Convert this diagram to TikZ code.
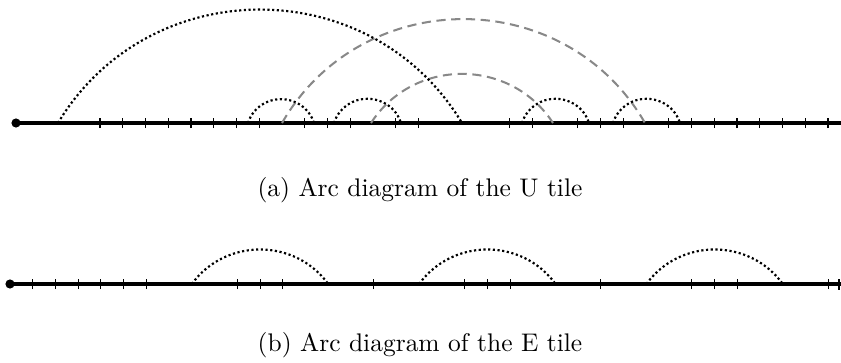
\documentclass[tikz,border=0pt]{standalone}
\usepackage{tikz}
\usetikzlibrary{arrows.meta}
\definecolor{arcgray}{HTML}{888888}
\tikzset{
  axis/.style={line width=1.6pt, color=black},
  tickmark/.style={line width=0.4pt, color=black},
  pairarc/.style={densely dotted, line width=0.85pt},
  crossarc/.style={dash pattern=on 3.6pt off 2.2pt, line width=0.8pt, color=arcgray},
  captext/.style={font=\normalsize, inner sep=0pt},
}

\begin{document}
\begin{tikzpicture}[x=0.3926pt, y=0.3926pt]
      \useasboundingbox (0,0) rectangle (841,362);
      % U tile
      \coordinate (u0) at (16,239);
      \coordinate (uend) at (841,239);
      \draw[axis] (u0) -- (uend);
      \fill (u0) circle[radius=1.8pt];
      \foreach \k in {0,...,7,9,10,11,13,14,18,19,21,22,23,25,26,...,32}
        \draw[tickmark] ({100+22.75*\k},234) -- ++(0,10);
      \coordinate (ua) at (58,239);  \coordinate (ub) at (462,239);
      \coordinate (uc) at (248,239); \coordinate (ud) at (314,239);
      \coordinate (ue) at (334,239); \coordinate (uf) at (401,239);
      \coordinate (ug) at (522,239); \coordinate (uh) at (589,239);
      \coordinate (ui) at (613,239); \coordinate (uj) at (680,239);
      \coordinate (uk) at (282,239); \coordinate (ul) at (645,239);
      \coordinate (um) at (371,239); \coordinate (un) at (553,239);
      \draw[crossarc] (uk) to[out=60,in=120,looseness=1.13] (ul);
      \draw[crossarc] (um) to[out=57,in=123,looseness=1.10] (un);
      \draw[pairarc] (ua) to[out=59,in=121,looseness=1.12] (ub);
      \draw[pairarc] (uc) to[out=72,in=108,looseness=1.30] (ud);
      \draw[pairarc] (ue) to[out=72,in=108,looseness=1.30] (uf);
      \draw[pairarc] (ug) to[out=72,in=108,looseness=1.30] (uh);
      \draw[pairarc] (ui) to[out=72,in=108,looseness=1.30] (uj);
      \node[captext] (capu) at (420,172) {(a) Arc diagram of the U tile};
      % E tile
      \coordinate (e0) at (10,78);
      \coordinate (eend) at (841,78);
      \draw[axis] (e0) -- (eend);
      \fill (e0) circle[radius=1.8pt];
      \foreach \i in {1,...,6,10,11,12,16,20,21,22,26,30,31,32,36}
        \draw[tickmark] ({10+22.73*\i},73) -- ++(0,10);
      \draw[tickmark, line width=0.8pt] (839,72.5) -- ++(0,11);
      \coordinate (ea) at ({10+22.73*8},78);  \coordinate (eb) at ({10+22.73*14},78);
      \coordinate (ec) at ({10+22.73*18},78); \coordinate (ed) at ({10+22.73*24},78);
      \coordinate (ef) at ({10+22.73*28},78); \coordinate (eg) at ({10+22.73*34},78);
      \draw[pairarc] (ea) to[out=54,in=126,looseness=1.07] (eb);
      \draw[pairarc] (ec) to[out=54,in=126,looseness=1.07] (ed);
      \draw[pairarc] (ef) to[out=54,in=126,looseness=1.07] (eg);
      \node[captext] (cape) at (420,17) {(b) Arc diagram of the E tile};
    \end{tikzpicture}
\end{document}
